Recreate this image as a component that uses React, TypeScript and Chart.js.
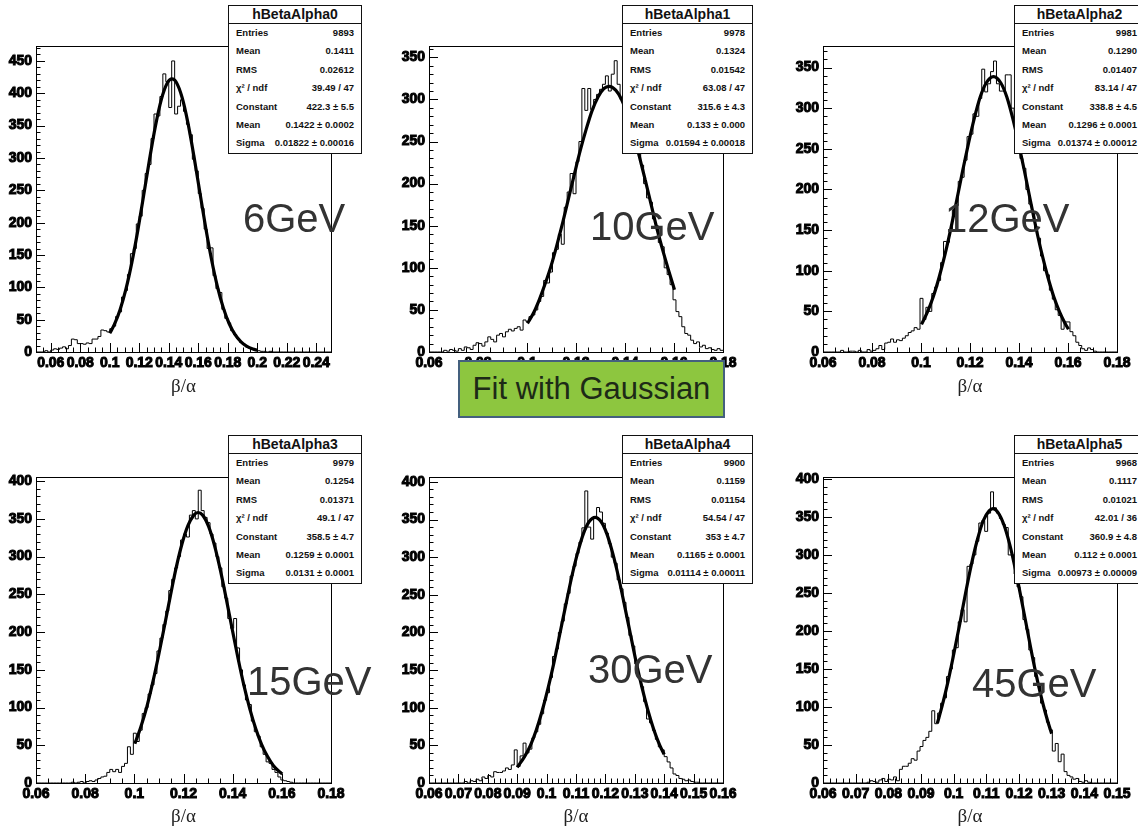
import React, { useEffect, useRef } from 'react';
import { Chart, registerables } from 'chart.js';

Chart.register(...registerables);

const FONT = '"Liberation Sans", Arial, Helvetica, sans-serif';
const SERIF = '"Liberation Serif", "Times New Roman", serif';

Chart.defaults.font.family = FONT;
Chart.defaults.font.size = 14;
Chart.defaults.font.weight = 'bold' as any;
Chart.defaults.color = '#000';

// ---------------- DATA ----------------
const statLabels = ['Entries', 'Mean', 'RMS', 'χ² / ndf', 'Constant', 'Mean', 'Sigma'];

// hBetaAlpha0 (6 GeV): 100 bins over 0.05 - 0.25
const range0 = [0.05, 0.25];
const counts0 = [
  0, 0, 0, 2, 0, 3, 5, 4, 6, 8, 5, 10, 20, 19, 13, 13, 12, 14, 13, 20, 20, 24, 34, 33, 31,
  36, 40, 55, 62, 85, 95, 120, 152, 160, 198, 210, 250, 276, 290, 330, 368, 365, 395, 430, 418,
  378, 450, 368, 380, 390, 372, 352, 336, 298, 280, 245, 222, 190, 160, 161, 118, 98, 92, 66, 52,
  45, 33, 27, 21, 15, 12, 8, 6, 5, 3,
  2, 1, 1, 0, 1, 0, 0, 0, 0, 0, 0, 0, 0, 0, 0, 0, 0, 0, 0, 0, 0, 0, 0, 0, 0,
];
const fitX0 = [0.100, 0.103, 0.107, 0.111, 0.115, 0.119, 0.123, 0.127, 0.131, 0.135, 0.139, 0.1422, 0.145, 0.149, 0.153, 0.157, 0.161, 0.165, 0.169, 0.173, 0.177, 0.181, 0.185, 0.189, 0.193, 0.197, 0.200];
const fitY0 = [28.9, 41.8, 65.3, 97.5, 138.6, 187.7, 242.4, 298.2, 349.6, 390.6, 415.9, 422.3, 417.4, 393.9, 354.3, 303.6, 248.0, 193.0, 143.1, 101.2, 68.2, 43.7, 26.7, 15.6, 8.6, 4.6, 2.8];
const xTicks0 = [0.06, 0.08, 0.1, 0.12, 0.14, 0.16, 0.18, 0.2, 0.22, 0.24];
const yTicks0 = [0, 50, 100, 150, 200, 250, 300, 350, 400, 450];
const stats0 = ['9893', '0.1411', '0.02612', '39.49 / 47', '422.3 ± 5.5', '0.1422 ± 0.0002', '0.01822 ± 0.00016'];

// hBetaAlpha1 (10 GeV): 100 bins over 0.06 - 0.18
const range1 = [0.06, 0.18];
const counts1 = [
  0, 0, 0, 0, 0, 2, 1, 3, 2, 1, 4, 2, 6, 5, 3, 8, 11, 10, 7, 12,
  18, 15, 12, 20, 22, 18, 24, 27, 25, 28, 30, 26, 38,
  36, 42, 44, 50, 60, 66, 85, 82, 95, 118, 122, 140, 128, 172, 190, 212, 188,
  226, 250, 313, 287, 313, 288, 300, 306, 312, 318, 328, 310, 330, 346, 318, 300, 295, 280, 274, 260,
  250, 236, 222, 200, 183, 178, 158, 150, 130, 125, 100, 92, 80, 62,
  48, 42, 30, 22, 20, 14, 10, 12, 6, 8, 4, 5, 3, 2, 4, 2,
];
const fitX1 = [0.1002, 0.1026, 0.1050, 0.1074, 0.1098, 0.1122, 0.1146, 0.1170, 0.1194, 0.1218, 0.1242, 0.1266, 0.1290, 0.1314, 0.1335, 0.1362, 0.1386, 0.1410, 0.1434, 0.1458, 0.1482, 0.1506, 0.1530, 0.1554, 0.1578, 0.1602];
const fitY1 = [34, 46, 62, 81, 102, 127, 154, 183, 212, 240, 265, 287, 303, 313, 315.6, 311, 300, 282, 259, 233, 205, 176, 147, 121, 97, 74];
const xTicks1 = [0.06, 0.08, 0.1, 0.12, 0.14, 0.16, 0.18];
const yTicks1 = [0, 50, 100, 150, 200, 250, 300, 350];
const stats1 = ['9978', '0.1324', '0.01542', '63.08 / 47', '315.6 ± 4.3', '0.133 ± 0.000', '0.01594 ± 0.00018'];

// hBetaAlpha2 (12 GeV): 100 bins over 0.06 - 0.18
const range2 = [0.06, 0.18];
const counts2 = [
  0, 0, 0, 0, 0, 0, 2, 0, 0, 1,
  1, 0, 2, 0, 0, 3, 1, 2, 4, 8,
  3, 11, 12, 16, 12, 15, 14, 17, 20, 24,
  26, 30, 28, 66, 40, 55, 50, 72, 80, 88,
  110, 136, 135, 150, 175, 180, 210, 215, 236, 265,
  268, 293, 290, 312, 348, 320, 330, 345, 358, 330,
  321, 321, 341, 341, 300, 285, 258, 238, 226, 200,
  182, 172, 150, 140, 118, 100, 95, 76, 65, 52,
  45, 28, 37, 37, 25, 20, 12, 8, 4, 2,
  5, 3, 1, 0, 0, 0, 0, 0, 0, 0,
];
const fitX2 = [0.1002, 0.1026, 0.1050, 0.1074, 0.1098, 0.1122, 0.1146, 0.1170, 0.1194, 0.1218, 0.1242, 0.1266, 0.1296, 0.1326, 0.1350, 0.1374, 0.1398, 0.1422, 0.1446, 0.1470, 0.1494, 0.1518, 0.1542, 0.1566, 0.1590, 0.1602];
const fitY2 = [34, 49, 68, 92, 120, 152, 187, 223, 257, 288, 314, 331, 338.8, 331, 314, 288, 257, 223, 187, 152, 120, 92, 68, 49, 34, 28];
const xTicks2 = [0.06, 0.08, 0.1, 0.12, 0.14, 0.16, 0.18];
const yTicks2 = [0, 50, 100, 150, 200, 250, 300, 350];
const stats2 = ['9981', '0.1290', '0.01407', '83.14 / 47', '338.8 ± 4.5', '0.1296 ± 0.0001', '0.01374 ± 0.00012'];

// hBetaAlpha3 (15 GeV): 100 bins over 0.06 - 0.18
const range3 = [0.06, 0.18];
const counts3 = [
  0, 0, 0, 0, 0, 0, 0, 0, 0, 0,
  0, 0, 1, 0, 1, 2, 0, 2, 3, 2,
  4, 6, 8, 9, 14, 18, 15, 18, 14, 22,
  26, 48, 38, 66, 55, 70, 92, 100, 118, 130,
  145, 175, 192, 210, 228, 255, 270, 285, 300, 322,
  330, 326, 355, 361, 350, 388, 361, 352, 345, 330,
  318, 300, 285, 260, 245, 218, 205, 218, 179, 150,
  130, 110, 104, 82, 68, 62, 48, 38, 28, 26,
  18, 14, 8, 4, 3, 2, 1, 0, 0, 0,
  0, 0, 0, 0, 0, 0, 0, 0, 0, 0,
];
const fitX3 = [0.1002, 0.1026, 0.1050, 0.1074, 0.1098, 0.1122, 0.1146, 0.1170, 0.1194, 0.1218, 0.1242, 0.1259, 0.1278, 0.1302, 0.1326, 0.1350, 0.1374, 0.1398, 0.1422, 0.1446, 0.1470, 0.1494, 0.1518, 0.1542, 0.1566, 0.1590, 0.1602];
const fitY3 = [52, 74, 100, 132, 168, 207, 247, 285, 317, 341, 355, 358.5, 355, 340, 315, 282, 244, 204, 165, 129, 98, 72, 51, 35, 23, 15, 12];
const xTicks3 = [0.06, 0.08, 0.1, 0.12, 0.14, 0.16, 0.18];
const yTicks3 = [0, 50, 100, 150, 200, 250, 300, 350, 400];
const stats3 = ['9979', '0.1254', '0.01371', '49.1 / 47', '358.5 ± 4.7', '0.1259 ± 0.0001', '0.0131 ± 0.0001'];

// hBetaAlpha4 (30 GeV): 100 bins over 0.06 - 0.16
const range4 = [0.06, 0.16];
const counts4 = [
  0, 0, 0, 0, 0, 0, 0, 0, 0, 0,
  0, 0, 2, 0, 3, 2, 5, 3, 8, 6,
  10, 8, 15, 14, 14, 16, 20, 18, 24, 44,
  22, 36, 53, 40, 45, 60, 68, 78, 92, 110,
  120, 140, 168, 178, 200, 215, 238, 252, 275, 288,
  305, 320, 339, 388, 340, 324, 352, 366, 360, 345,
  332, 318, 300, 292, 270, 258, 240, 220, 196, 182,
  158, 140, 128, 108, 85, 80, 70, 58, 48, 44,
  35, 28, 20, 12, 10, 6, 5, 3, 4, 2,
  1, 1, 0, 0, 0, 0, 0, 0, 0, 0,
];
const fitX4 = [0.0900, 0.0925, 0.0945, 0.0965, 0.0985, 0.1005, 0.1025, 0.1045, 0.1065, 0.1085, 0.1105, 0.1125, 0.1145, 0.1165, 0.1185, 0.1205, 0.1225, 0.1245, 0.1265, 0.1285, 0.1305, 0.1325, 0.1345, 0.1365, 0.1385, 0.1400];
const fitY4 = [20.8, 35, 50, 70.5, 96, 126, 160, 198, 236, 273, 305, 331, 347.4, 353, 347.4, 331, 305, 273, 236, 198, 160, 126, 96, 70.5, 50, 38];
const xTicks4 = [0.06, 0.07, 0.08, 0.09, 0.1, 0.11, 0.12, 0.13, 0.14, 0.15, 0.16];
const yTicks4 = [0, 50, 100, 150, 200, 250, 300, 350, 400];
const stats4 = ['9900', '0.1159', '0.01154', '54.54 / 47', '353 ± 4.7', '0.1165 ± 0.0001', '0.01114 ± 0.00011'];

// hBetaAlpha5 (45 GeV): 100 bins over 0.06 - 0.15
const range5 = [0.06, 0.15];
const counts5 = [
  0, 0, 0, 0, 0, 0, 0, 0, 0, 0,
  0, 0, 0, 0, 0, 1, 3, 2, 1, 4,
  6, 2, 5, 4, 8, 3, 18, 22, 22, 26,
  32, 30, 42, 48, 56, 60, 68, 95, 78, 92,
  105, 112, 140, 150, 175, 178, 212, 228, 212, 285,
  288, 300, 318, 342, 345, 331, 355, 383, 362, 355,
  348, 340, 336, 300, 300, 275, 258, 245, 215, 202,
  175, 165, 140, 128, 105, 96, 80, 70, 42, 52,
  28, 38, 15, 10, 8, 5, 6, 2, 1, 3,
  1, 0, 0, 0, 0, 0, 0, 0, 0, 0,
];
const fitX5 = [0.0950, 0.09645, 0.09825, 0.10005, 0.10185, 0.10365, 0.10545, 0.10725, 0.10905, 0.11085, 0.1120, 0.11355, 0.11535, 0.11715, 0.11895, 0.12075, 0.12255, 0.12435, 0.12615, 0.12795, 0.12975, 0.1300];
const fitY5 = [78.5, 101, 133, 170, 209, 250, 288, 320, 345, 358, 360.9, 356, 340, 314, 280, 241, 201, 161, 125, 94, 68, 65];
const xTicks5 = [0.06, 0.07, 0.08, 0.09, 0.1, 0.11, 0.12, 0.13, 0.14, 0.15];
const yTicks5 = [0, 50, 100, 150, 200, 250, 300, 350, 400];
const stats5 = ['9968', '0.1117', '0.01021', '42.01 / 36', '360.9 ± 4.8', '0.112 ± 0.0001', '0.00973 ± 0.00009'];

const yMax = [472.5, 363, 376, 405, 406, 402];
const xMajorStep = [0.02, 0.02, 0.02, 0.02, 0.01, 0.01];
const xMinorStep = [0.005, 0.005, 0.005, 0.005, 0.002, 0.002];
const histNames = ['hBetaAlpha0', 'hBetaAlpha1', 'hBetaAlpha2', 'hBetaAlpha3', 'hBetaAlpha4', 'hBetaAlpha5'];
const energies = ['6GeV', '10GeV', '12GeV', '15GeV', '30GeV', '45GeV'];

// ---------------- LAYOUT ----------------
const COL_L = [36, 429, 823];
const COL_R = [331, 723, 1117];
const ROW_T = [44, 475];
const ROW_B = [352, 783];
const ROW_TITLE = [387, 817];
const STAT_L = [228, 622, 1014];
const STAT_W = [134, 131, 131];
const STAT_T = [5, 435];
const Y_AXIS_W = 36;
const PAD_TOP = 10;
const PAD_RIGHT = 20;
const ENERGY_POS = [[243, 232], [590, 240], [945, 232], [247, 695], [588, 683], [972, 697]];

const panels = [
  { counts: counts0, range: range0, fitX: fitX0, fitY: fitY0, xTicks: xTicks0, yTicks: yTicks0, stats: stats0 },
  { counts: counts1, range: range1, fitX: fitX1, fitY: fitY1, xTicks: xTicks1, yTicks: yTicks1, stats: stats1 },
  { counts: counts2, range: range2, fitX: fitX2, fitY: fitY2, xTicks: xTicks2, yTicks: yTicks2, stats: stats2 },
  { counts: counts3, range: range3, fitX: fitX3, fitY: fitY3, xTicks: xTicks3, yTicks: yTicks3, stats: stats3 },
  { counts: counts4, range: range4, fitX: fitX4, fitY: fitY4, xTicks: xTicks4, yTicks: yTicks4, stats: stats4 },
  { counts: counts5, range: range5, fitX: fitX5, fitY: fitY5, xTicks: xTicks5, yTicks: yTicks5, stats: stats5 },
];

const fmt = (v: number) => String(+Number(v).toFixed(4));

function HistPanel({ idx }: { idx: number }) {
  const ref = useRef<HTMLCanvasElement>(null);
  const p = panels[idx];
  const col = idx % 3;
  const row = Math.floor(idx / 3);
  const L = COL_L[col], R = COL_R[col], T = ROW_T[row], B = ROW_B[row];
  const left = L - Y_AXIS_W;
  const top = T - PAD_TOP;
  const width = R - L + Y_AXIS_W + PAD_RIGHT;
  const bottom = Math.round(ROW_TITLE[row] + 11.4);
  const height = bottom - top;
  const xAxisH = bottom - B;

  useEffect(() => {
    const [xMin, xMax] = p.range;
    const n = p.counts.length;
    const w = (xMax - xMin) / n;
    const hist = p.counts.map((c, i) => ({ x: xMin + i * w, y: c }));
    hist.push({ x: xMax, y: p.counts[n - 1] });
    const fit = p.fitX.map((x, i) => ({ x, y: p.fitY[i] }));
    const xMajor = xMajorStep[idx];
    const xMinor = xMinorStep[idx];

    const framePlugin = {
      id: 'rootFrame',
      afterDatasetsDraw(chart: any) {
        const { ctx, chartArea: a, scales } = chart;
        const xs = scales.x, ys = scales.y;
        ctx.save();
        ctx.strokeStyle = '#000';
        ctx.lineWidth = 1;
        ctx.strokeRect(Math.round(a.left) + 0.5, Math.round(a.top) + 0.5, Math.round(a.right - a.left), Math.round(a.bottom - a.top));
        ctx.beginPath();
        for (let k = Math.ceil(xs.min / xMinor - 1e-6); k * xMinor <= xs.max + 1e-9; k++) {
          const v = k * xMinor;
          const major = Math.abs(v / xMajor - Math.round(v / xMajor)) < 1e-6;
          const px = Math.round(xs.getPixelForValue(v)) + 0.5;
          ctx.moveTo(px, a.bottom);
          ctx.lineTo(px, a.bottom - (major ? 9 : 4.5));
        }
        for (let k = 0; k * 10 <= ys.max + 1e-9; k++) {
          const v = k * 10;
          const major = v % 50 === 0;
          const py = Math.round(ys.getPixelForValue(v)) + 0.5;
          ctx.moveTo(a.left, py);
          ctx.lineTo(a.left + (major ? 9 : 4.5), py);
        }
        ctx.stroke();
        ctx.restore();
      },
    };

    const chart = new Chart(ref.current as HTMLCanvasElement, {
      type: 'line',
      data: {
        datasets: [
          { data: hist, borderColor: '#000', borderWidth: 1, stepped: 'before', pointRadius: 0, fill: false },
          { data: fit, borderColor: '#000', borderWidth: 3.2, cubicInterpolationMode: 'monotone', pointRadius: 0, fill: false },
        ] as any,
      },
      options: {
        animation: false,
        responsive: false,
        maintainAspectRatio: false,
        layout: { padding: { top: PAD_TOP, right: PAD_RIGHT, left: 0, bottom: 0 } },
        plugins: { legend: { display: false }, tooltip: { enabled: false }, title: { display: false } },
        elements: { point: { radius: 0 } },
        scales: {
          x: {
            type: 'linear',
            min: xMin,
            max: xMax,
            afterFit: (s: any) => { s.height = xAxisH; },
            afterBuildTicks: (s: any) => { s.ticks = p.xTicks.map((v) => ({ value: v })); },
            grid: { display: false, drawTicks: false },
            border: { display: false },
            ticks: {
              autoSkip: false, maxRotation: 0, minRotation: 0, padding: 3, color: '#000',
              font: { family: FONT, size: 14, weight: 'bold' },
              textStrokeColor: '#000', textStrokeWidth: 1,
              callback: (v: any) => fmt(v),
            },
            title: { display: true, text: 'β/α', color: '#222', font: { family: SERIF, size: 19, weight: 'normal' }, padding: 0 },
          },
          y: {
            type: 'linear',
            min: 0,
            max: yMax[idx],
            afterFit: (s: any) => { s.width = Y_AXIS_W; },
            afterBuildTicks: (s: any) => { s.ticks = p.yTicks.map((v) => ({ value: v })); },
            grid: { display: false, drawTicks: false },
            border: { display: false },
            ticks: {
              autoSkip: false, padding: 4, color: '#000',
              font: { family: FONT, size: 14, weight: 'bold' },
              textStrokeColor: '#000', textStrokeWidth: 1,
              callback: (v: any) => String(v),
            },
          },
        },
      } as any,
      plugins: [framePlugin],
    });
    return () => chart.destroy();
  }, []);

  return (
    <canvas
      ref={ref}
      width={width}
      height={height}
      style={{ position: 'absolute', left, top, width, height }}
    />
  );
}

function StatBox({ idx }: { idx: number }) {
  const col = idx % 3;
  const row = Math.floor(idx / 3);
  const vals = panels[idx].stats;
  return (
    <div
      style={{
        position: 'absolute',
        left: STAT_L[col],
        top: STAT_T[row],
        width: STAT_W[col],
        height: 149,
        background: '#fff',
        border: '1px solid #111',
        boxSizing: 'border-box',
        fontFamily: FONT,
        color: '#111',
        overflow: 'hidden',
      }}
    >
      <div style={{ height: 17, lineHeight: '17px', textAlign: 'center', fontSize: 14, fontWeight: 'bold', borderBottom: '1px solid #111' }}>
        {histNames[idx]}
      </div>
      {statLabels.map((lab, i) => (
        <div
          key={i}
          style={{ display: 'flex', justifyContent: 'space-between', height: 18.4, lineHeight: '18.4px', padding: '0 7px', fontSize: 9.5, fontWeight: 'bold', whiteSpace: 'nowrap' }}
        >
          <span>{lab}</span>
          <span>{vals[i]}</span>
        </div>
      ))}
    </div>
  );
}

export default function App() {
  return (
    <div style={{ position: 'fixed', left: 0, top: 0, width: 1138, height: 828, overflow: 'hidden', background: '#fff' }}>
      {panels.map((_, i) => <HistPanel key={'c' + i} idx={i} />)}
      {panels.map((_, i) => <StatBox key={'s' + i} idx={i} />)}
      {energies.map((e, i) => (
        <div
          key={'e' + i}
          style={{
            position: 'absolute',
            left: ENERGY_POS[i][0],
            top: ENERGY_POS[i][1] - 34,
            fontFamily: FONT,
            fontSize: 40,
            lineHeight: '40px',
            color: '#333',
            whiteSpace: 'nowrap',
          }}
        >
          {e}
        </div>
      ))}
      <div
        style={{
          position: 'absolute',
          left: 458,
          top: 360,
          width: 267,
          height: 58,
          background: '#8dc63f',
          border: '2px solid #44607e',
          boxSizing: 'border-box',
          display: 'flex',
          alignItems: 'center',
          justifyContent: 'center',
          fontFamily: FONT,
          fontSize: 31,
          color: '#1d2a17',
          whiteSpace: 'nowrap',
        }}
      >
        Fit with Gaussian
      </div>
    </div>
  );
}
